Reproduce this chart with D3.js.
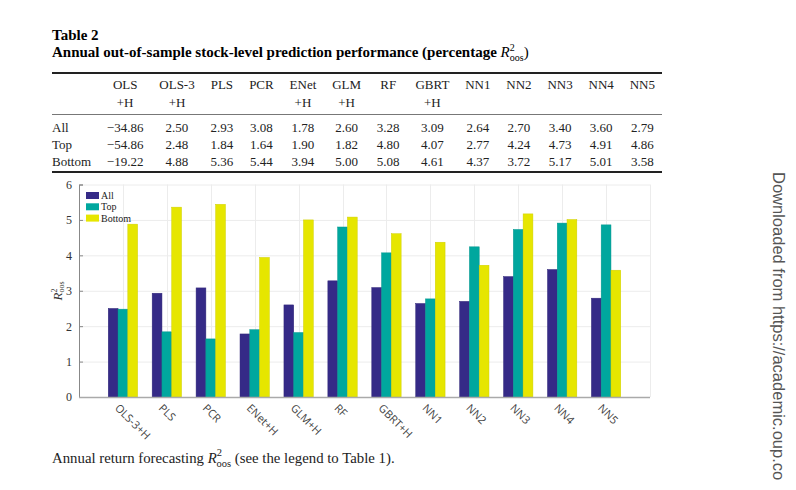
<!DOCTYPE html>
<html><head><meta charset="utf-8">
<script src="https://cdn.jsdelivr.net/npm/d3@7"></script>
<style>
body{margin:0;background:#fff;}
svg{display:block;}
text{font-family:"Liberation Serif","Times New Roman",serif;}
</style></head>
<body>
<svg id="c" width="796" height="490"></svg>
<script>
// ---- data ----
const tableColumns = [["OLS","+H"],["OLS-3","+H"],["PLS",""],["PCR",""],["ENet","+H"],["GLM","+H"],["RF",""],["GBRT","+H"],["NN1",""],["NN2",""],["NN3",""],["NN4",""],["NN5",""]];
const rowLabels = ["All","Top","Bottom"];
const allValues    = [-34.86, 2.50, 2.93, 3.08, 1.78, 2.60, 3.28, 3.09, 2.64, 2.70, 3.40, 3.60, 2.79];
const topValues    = [-54.86, 2.48, 1.84, 1.64, 1.90, 1.82, 4.80, 4.07, 2.77, 4.24, 4.73, 4.91, 4.86];
const bottomValues = [-19.22, 4.88, 5.36, 5.44, 3.94, 5.00, 5.08, 4.61, 4.37, 3.72, 5.17, 5.01, 3.58];
const chartCategories = ["OLS-3+H","PLS","PCR","ENet+H","GLM+H","RF","GBRT+H","NN1","NN2","NN3","NN4","NN5"];
const seriesNames = ["All","Top","Bottom"];
const yTicks = [0,1,2,3,4,5,6];

const colors = {All:"#352a87", Top:"#00a79e", Bottom:"#e6e600"};
const svg = d3.select("#c");

// ---- titles ----
svg.append("text").attr("x",52).attr("y",40).attr("font-weight","bold").attr("font-size",15).text("Table 2");
const t2 = svg.append("text").attr("x",52).attr("y",57).attr("font-weight","bold").attr("font-size",15);
t2.append("tspan").text("Annual out-of-sample stock-level prediction performance (percentage ");
t2.append("tspan").attr("font-style","italic").attr("font-weight","normal").text("R");
t2.append("tspan").attr("font-size",10).attr("font-weight","normal").attr("dy",-6).text("2");
t2.append("tspan").attr("font-size",10).attr("font-weight","normal").attr("dx",-5).attr("dy",10).text("oos");
t2.append("tspan").attr("dy",-4).attr("font-weight","normal").text(")");

// ---- table ----
const L = 52, R = 662;
const fs = 13;
const rows = [allValues, topValues, bottomValues];
const fmt = v => (v<0 ? "\u2212" + Math.abs(v).toFixed(2) : v.toFixed(2));
const meas = svg.append("text").attr("font-size",fs).attr("opacity",0);
function tw(s){ meas.text(s); return meas.node().getComputedTextLength(); }
const labelW = d3.max(rowLabels, tw);
const colW = tableColumns.map((c,i)=> d3.max([tw(c[0]), tw(c[1]), ...rows.map(r=>tw(fmt(r[i])))]));
meas.remove();
const rightPad = 7;
const gap = (R - rightPad - L - labelW - d3.sum(colW)) / tableColumns.length;
const centers = [];
let cx = L + labelW;
colW.forEach(w=>{ cx += gap; centers.push(cx + w/2); cx += w; });

svg.append("line").attr("x1",L).attr("x2",R).attr("y1",73).attr("y2",73).attr("stroke","#222").attr("stroke-width",2);
svg.append("line").attr("x1",L).attr("x2",R).attr("y1",114.5).attr("y2",114.5).attr("stroke","#777").attr("stroke-width",1);
svg.append("line").attr("x1",L).attr("x2",R).attr("y1",172).attr("y2",172).attr("stroke","#222").attr("stroke-width",2);

const tbl = svg.append("g").attr("font-size",fs).attr("fill","#222");
tableColumns.forEach((c,i)=>{
  tbl.append("text").attr("x",centers[i]).attr("y",89).attr("text-anchor","middle").text(c[0]);
  if(c[1]) tbl.append("text").attr("x",centers[i]).attr("y",107).attr("text-anchor","middle").text(c[1]);
});
const rowY = [132,149,166];
rowLabels.forEach((lab,j)=>{
  tbl.append("text").attr("x",L).attr("y",rowY[j]).text(lab);
  rows[j].forEach((v,i)=>{
    tbl.append("text").attr("x",centers[i]).attr("y",rowY[j]).attr("text-anchor","middle").text(fmt(v));
  });
});

// ---- chart ----
const x = d3.scaleLinear().domain([0, chartCategories.length+1]).range([79, 650]);
const y = d3.scaleLinear().domain([0, 6]).range([397, 184.5]);
const unit = x(1)-x(0);
const inner = d3.scaleBand().domain(seriesNames).range([-0.334*unit, 0.334*unit]).padding(0);

const g = svg.append("g");
g.selectAll(".hg").data(yTicks.filter(d=>d>0)).join("line")
  .attr("x1",x(0)).attr("x2",x(13)).attr("y1",d=>y(d)+0.5).attr("y2",d=>y(d)+0.5)
  .attr("stroke","#ececec").attr("stroke-width",1);
g.selectAll(".vg").data(d3.range(1, chartCategories.length+2)).join("line")
  .attr("x1",d=>Math.round(x(d))+0.5).attr("x2",d=>Math.round(x(d))+0.5).attr("y1",y(6)).attr("y2",y(0))
  .attr("stroke","#ececec").attr("stroke-width",1);

const barData = [];
chartCategories.forEach((c,i)=>{
  barData.push({c, i, s:"All", v:allValues[i+1]});
  barData.push({c, i, s:"Top", v:topValues[i+1]});
  barData.push({c, i, s:"Bottom", v:bottomValues[i+1]});
});
g.selectAll(".bar").data(barData).join("rect")
  .attr("x",d=>x(d.i+1)+inner(d.s))
  .attr("width",inner.bandwidth())
  .attr("y",d=>y(d.v))
  .attr("height",d=>y(0)-y(d.v))
  .attr("fill",d=>colors[d.s])
  .attr("stroke",d=>d3.color(colors[d.s]).darker(0.3))
  .attr("stroke-width",0.5);

const yAxis = d3.axisLeft(y).tickValues(yTicks).tickSize(-4).tickPadding(7).tickFormat(d3.format("d"));
const ya = svg.append("g").attr("transform",`translate(${x(0)},0)`).call(yAxis);
ya.select(".domain").attr("stroke","#888");
ya.selectAll(".tick line").attr("stroke","#888");
ya.selectAll(".tick text").attr("font-family","Liberation Serif").attr("font-size",12).attr("fill","#333");

svg.append("line").attr("x1",x(0)).attr("x2",x(13)).attr("y1",y(0)+0.5).attr("y2",y(0)+0.5)
  .attr("stroke","#aaa").attr("stroke-width",1.5);

// x labels rotated (sans-serif)
const xl = svg.append("g").attr("font-size",11).attr("fill","#444")
  .style("font-family","'Open Sans', 'Noto Sans', sans-serif");
chartCategories.forEach((c,i)=>{
  const px = x(i+1)-6, py = 406;
  xl.append("text").attr("transform",`translate(${px},${py}) rotate(45)`).attr("dy","0.35em")
    .style("font-family","'Open Sans', 'Noto Sans', sans-serif").text(c);
});

// y label
const yl = svg.append("text").attr("transform",`translate(62,291) rotate(-90)`).attr("text-anchor","middle").attr("font-size",13).attr("fill","#333");
yl.append("tspan").attr("font-style","italic").text("R");
yl.append("tspan").attr("font-size",8).attr("dy",-5).text("2");
yl.append("tspan").attr("font-size",8).attr("dx",-4).attr("dy",7).text("oos");

// legend
const lg = svg.append("g").attr("font-size",10).attr("fill","#222");
seriesNames.forEach((s,k)=>{
  const yy = 192 + k*11.3;
  lg.append("rect").attr("x",86).attr("y",yy).attr("width",13).attr("height",7).attr("fill",colors[s]);
  lg.append("text").attr("x",101).attr("y",yy+3.5).attr("dy","0.35em").text(s);
});

// caption
const cap = svg.append("text").attr("x",52).attr("y",463).attr("font-size",14.8).attr("fill","#222");
cap.append("tspan").text("Annual return forecasting ");
cap.append("tspan").attr("font-style","italic").text("R");
cap.append("tspan").attr("font-size",10.5).attr("dy",-7).text("2");
cap.append("tspan").attr("font-size",10.5).attr("dx",-5.5).attr("dy",11).text("oos");
cap.append("tspan").attr("dy",-4).text(" (see the legend to Table 1).");

// watermark
svg.append("text").attr("transform","translate(773,172) rotate(90)")
  .attr("font-size",16.5).attr("fill","#555")
  .style("font-family","'Liberation Sans', Arial, sans-serif")
  .text("Downloaded from https://academic.oup.co");
</script>
</body></html>
